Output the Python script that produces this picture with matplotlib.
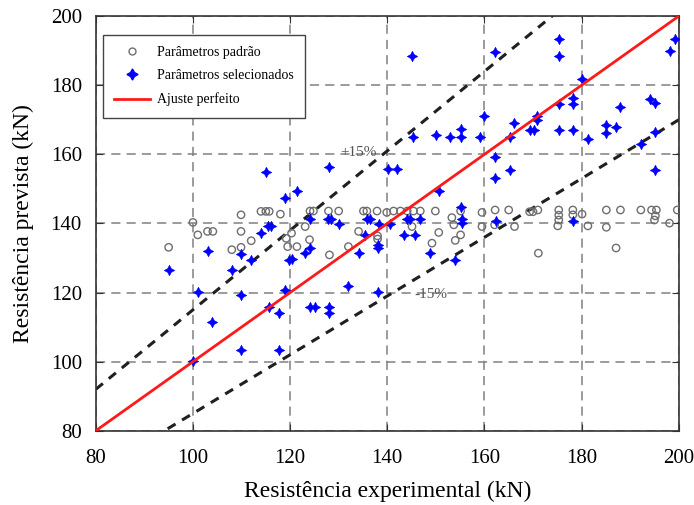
import numpy as np
import matplotlib
matplotlib.use("Agg")
import matplotlib.pyplot as plt
from matplotlib.lines import Line2D

plt.rcParams['font.family'] = ['Liberation Serif', 'DejaVu Serif']

# Parâmetros padrão (open circles)
padrao_x = [95, 100, 101, 103, 104.1, 108, 109.9, 109.9, 109.9, 112, 114, 115, 115.7, 118, 119.2, 119.5,
            120.3, 121.4, 123.1, 124, 124.1, 124.8, 127.9, 128.1, 130, 132, 134.1, 135.1, 135.8, 137.9, 138, 138,
            139.9, 141.3, 142.7, 144.1, 145.4, 146.8, 145.1, 149.9, 149.2, 150.6, 153.3, 153.7, 154, 155.1, 155.1,
            159.5, 159.5,
            162.2, 162.1, 165, 166.2, 169.3, 170, 171, 171.1, 175.3, 175.3, 175.3, 178.2, 178.2, 180.1, 175.1,
            181.3, 185.1, 185.1, 187.1, 188, 192.2, 194.4, 195.4, 195.2, 195, 198.1, 199.7]
padrao_y = [133.1, 140.3, 136.7, 137.7, 137.7, 132.4, 137.7, 133.1, 142.5, 135, 143.5, 143.5, 143.5, 142.7, 135.7, 133.3,
            137.2, 133.3, 139.1, 135.3, 143.6, 143.6, 143.6, 130.9, 143.6, 133.3, 137.7, 143.6, 143.6, 143.6, 135.5, 136.4,
            143.2, 143.6, 143.6, 143.6, 143.6, 143.6, 139.1, 143.6, 134.3, 137.4, 141.7, 139.6, 135.1, 136.7, 143.6,
            143.2, 139.1,
            143.9, 139.6, 143.9, 139.1, 143.4, 143.4, 143.9, 131.4, 143.9, 142.4, 141.0, 143.9, 142.5, 142.7, 139.3,
            139.3, 143.9, 138.9, 132.9, 143.9, 143.9, 143.9, 143.9, 142.2, 141.0, 140.1, 143.9]

# Parâmetros selecionados (blue stars)
selec_x = [95, 100, 101, 103, 103.9, 108, 109.9, 109.9, 109.9, 112, 114, 115.1, 115.4, 116.1, 115.7, 117.8, 117.8,
           119, 119, 119.7,
           120.3, 121.4, 123.1, 124.1, 124.1, 124.1, 125.2, 127.9, 128.5, 128.1, 128.1, 128.1, 130, 132, 134.1,
           135.5, 135.8, 136.5, 138, 138, 138, 138.2, 140.1, 142.1, 140.6, 143.4, 144, 144.7, 145.8, 146.8,
           145.1, 145.2, 148.9, 150, 150.6, 153, 154, 155.2, 155.2, 155.1, 155.4, 155.4, 159, 160,
           162.2, 175.3, 175.3, 180.1, 199.2, 198.1, 166, 165.2, 169.3, 170.2, 170.9, 170.9, 175.3, 175.3,
           178.2, 178.2, 178.2, 181.3, 185.1, 185.1, 187.1, 188, 194, 195.2, 195.2, 192.2, 162.2, 162.2,
           165.2, 195.2, 162.4, 178.2]
selec_y = [126.4, 100.1, 120.3, 131.9, 111.6, 126.4, 131.1, 119.4, 103.5, 129.3, 137.2, 154.9, 139.3, 139.3, 115.8,
           114.1, 103.5, 147.5, 120.6, 129.5,
           129.7, 149.4, 131.4, 132.9, 141.2, 115.8, 115.8, 141.2, 141.2, 156.2, 115.8, 114.1, 139.8, 121.8, 131.4,
           136.7, 141.2, 141.2, 132.9, 133.8, 120.3, 139.8, 155.7, 155.7, 139.8, 136.7, 141.2, 141.2, 136.7, 141.2,
           188.6, 165.1, 131.4, 165.5, 149.4, 165.1, 129.5, 167.2, 165.1, 144.9, 141.2, 140.0, 165.1, 171.0,
           189.6, 193.3, 188.4, 181.9, 193.3, 189.9, 169.0, 165.1, 167.1, 167.1, 171.1, 169.9, 174.5, 167.1,
           176.4, 174.5, 167.1, 164.4, 168.4, 166.3, 167.9, 173.8, 175.9, 174.8, 166.5, 162.9, 159.1, 153.3,
           155.5, 155.5, 140.8, 140.8]

lim = [80, 200]
ticks = [80, 100, 120, 140, 160, 180, 200]

fig = plt.figure(figsize=(6.94, 5.05), dpi=100)
ax = fig.add_axes([0.138, 0.147, 0.840, 0.821])

ax.grid(True, color='#808080', linestyle=(0, (6, 4)), linewidth=1.1)
ax.set_axisbelow(True)

xl = np.array(lim)
ax.plot(xl, 1.15 * xl, color='#202020', linestyle=(0, (3, 2.5)), linewidth=2.2, zorder=2)
ax.plot(xl, 0.85 * xl, color='#202020', linestyle=(0, (3, 2.5)), linewidth=2.2, zorder=2)

ax.scatter(padrao_x, padrao_y, s=28, facecolors='none', edgecolors='#6e6e6e', linewidths=1.0, zorder=3)
ax.scatter(selec_x, selec_y, s=60, marker=(4, 1, 0), color='#0000ff', linewidths=0.3, zorder=4)
ax.plot(xl, xl, color='#ff1a1a', linewidth=2, zorder=5)

ax.text(134, 160.6, '+15%', fontsize=11, color='#555555', ha='center', va='center')
ax.text(149, 119.5, '-15%', fontsize=11, color='#555555', ha='center', va='center')

ax.set_xlim(lim)
ax.set_ylim(lim)
ax.set_xticks(ticks)
ax.set_yticks(ticks)
ax.tick_params(direction='in', top=True, right=True, labelsize=15, length=5, color='#333333')
ax.tick_params(axis='x', pad=13)
ax.tick_params(axis='y', pad=10)
for sp in ax.spines.values():
    sp.set_color('#333333')
    sp.set_linewidth(1.2)

ax.set_xlabel('Resistência experimental (kN)', fontsize=17, labelpad=9)
ax.set_ylabel('Resistência prevista (kN)', fontsize=17, labelpad=12)

handles = [
    Line2D([], [], linestyle='none', marker='o', markersize=5, markerfacecolor='none',
           markeredgecolor='#6e6e6e', label='Parâmetros padrão'),
    Line2D([], [], linestyle='none', marker=(4, 1, 0), markersize=8, color='#0000ff',
           label='Parâmetros selecionados'),
    Line2D([], [], color='#ff1a1a', linewidth=2, label='Ajuste perfeito'),
]
leg = ax.legend(handles=handles, loc='upper left', bbox_to_anchor=(0.0, 0.972), fontsize=10,
                frameon=True, fancybox=False, edgecolor='#444444', framealpha=1,
                handlelength=2.6, handletextpad=0.5, borderpad=0.8, labelspacing=0.75)
leg.get_frame().set_linewidth(1.0)

fig.savefig('out.png', dpi=100)
